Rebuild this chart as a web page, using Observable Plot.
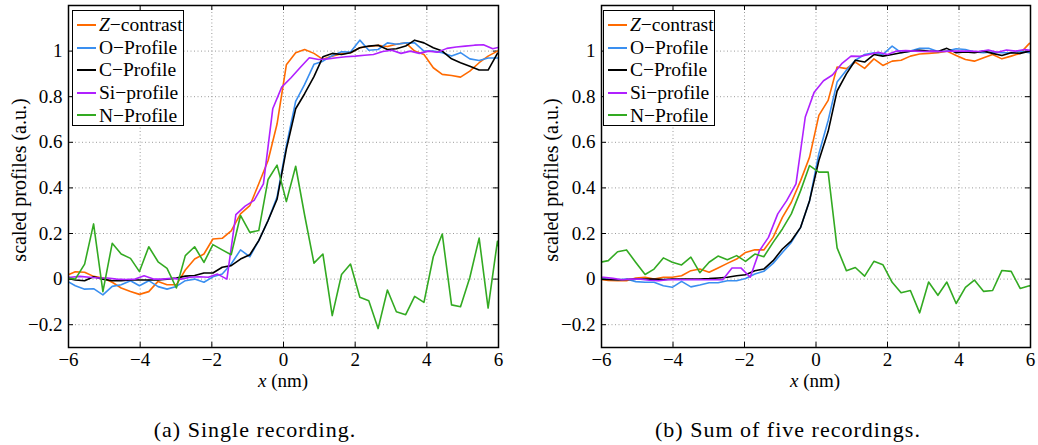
<!DOCTYPE html>
<html>
<head>
<meta charset="utf-8">
<script src="https://cdn.jsdelivr.net/npm/d3@7"></script>
<script src="https://cdn.jsdelivr.net/npm/@observablehq/plot@0.6"></script>
<style>
  html, body { margin: 0; padding: 0; background: #fff; }
  #page { position: relative; width: 1038px; height: 445px; background: #fff; overflow: hidden;
          font-family: "Liberation Serif", "Times New Roman", serif; color: #000; }
  #page svg, #page svg text { font-family: "Liberation Serif", "Times New Roman", serif !important; }
  .panel { position: absolute; top: 0; }
  .legend { position: absolute; top: 10px; width: 112px; height: 116px; background: #fff;
            border: 1.4px solid #000; box-sizing: border-box; }
  .lrow { position: absolute; left: 4px; height: 22px; display: flex; align-items: center;
          font-size: 19.5px; white-space: nowrap; line-height: 1; }
  .lrow .sw { display: block; width: 19px; height: 2px; margin-right: 3px; flex: none; }
  .xlab { position: absolute; top: 371px; width: 120px; text-align: center; font-size: 19px; line-height: 20px; }
  .ylab { position: absolute; width: 240px; height: 22px; line-height: 22px; text-align: center; font-size: 20px;
          white-space: nowrap; transform: translate(-50%, -50%) rotate(-90deg); }
  .cap { position: absolute; top: 418px; width: 440px; text-align: center; font-size: 22px; letter-spacing: 1px; line-height: 24px; }
</style>
</head>
<body>
<div id="page"></div>
<script>
// ---------- data ----------
const xTicks = [-6, -4, -2, 0, 2, 4, 6];
const yTicks = [-0.2, 0, 0.2, 0.4, 0.6, 0.8, 1];

const seriesNames = ["Z\u2212contrast", "O\u2212Profile", "C\u2212Profile", "Si\u2212profile", "N\u2212Profile"];
const seriesColors = ["#ff6a00", "#3a8ff0", "#000000", "#b020ff", "#33aa22"];

// sample positions (nm)
const xs = [-6.06, -5.81, -5.55, -5.30, -5.04, -4.78, -4.53, -4.27, -4.02, -3.76, -3.50, -3.25, -2.99, -2.74, -2.48, -2.22, -1.97, -1.71, -1.46, -1.20, -0.94, -0.69, -0.43, -0.18,
  0.08, 0.34, 0.59, 0.85, 1.10, 1.36, 1.62, 1.87, 2.13, 2.38, 2.64, 2.90, 3.15, 3.41, 3.66, 3.92, 4.18, 4.43, 4.69, 4.94, 5.20, 5.46, 5.71, 5.97, 6.22];
// Si profile sampled on a shifted grid
const xsSi = [-6.19, -5.94, -5.68, -5.42, -5.17, -4.91, -4.66, -4.40, -4.14, -3.89, -3.63, -3.38, -3.12, -2.86, -2.61, -2.35, -2.10, -1.84, -1.58, -1.33, -1.07, -0.82, -0.56, -0.30, -0.05,
  0.21, 0.46, 0.72, 0.98, 1.23, 1.49, 1.74, 2.00, 2.26, 2.51, 2.77, 3.02, 3.28, 3.54, 3.79, 4.05, 4.30, 4.56, 4.82, 5.07, 5.33, 5.58, 5.84, 6.10];

// (a) single recording
const zA = [0.015, 0.032, 0.03, 0.012, 0.005, -0.014, -0.039, -0.054, -0.067, -0.055, -0.01, -0.025, -0.025, 0.04, 0.088, 0.11, 0.176, 0.179, 0.212, 0.286, 0.322, 0.418, 0.52, 0.68,
  0.94, 0.993, 1.007, 0.99, 0.964, 0.978, 0.988, 0.993, 1.015, 1.02, 1.025, 1.02, 1.03, 1.036, 1.0, 0.985, 0.927, 0.898, 0.893, 0.886, 0.912, 0.949, 0.978, 1.0, 1.02];
const oA = [-0.007, -0.029, -0.044, -0.042, -0.069, -0.032, -0.025, -0.007, -0.029, -0.007, -0.033, -0.044, -0.032, -0.007, 0.0, -0.014, 0.01, 0.022, 0.066, 0.128, 0.098, 0.169, 0.257, 0.36,
  0.584, 0.78, 0.854, 0.942, 0.956, 0.98, 0.997, 0.996, 1.048, 1.004, 1.007, 1.036, 1.03, 1.036, 1.036, 1.0, 1.0, 0.993, 0.978, 0.993, 0.966, 0.959, 0.97, 0.97, 0.97];
const cA = [0.005, -0.004, -0.007, 0.01, 0.0, -0.007, -0.007, -0.004, -0.004, -0.004, -0.004, 0.0, 0.005, 0.013, 0.016, 0.027, 0.027, 0.052, 0.059, 0.088, 0.107, 0.169, 0.257, 0.35,
  0.57, 0.747, 0.813, 0.888, 0.975, 0.99, 0.985, 0.993, 1.015, 1.022, 1.026, 1.007, 1.01, 1.022, 1.048, 1.036, 1.015, 1.0, 0.966, 0.949, 0.934, 0.917, 0.917, 0.99, 1.0];
const siA = [0.01, 0.008, 0.012, 0.008, 0.005, 0.005, 0.0, -0.002, 0.0, 0.015, 0.0, 0.0, 0.003, 0.0, 0.008, 0.01, 0.008, 0.022, 0.0, 0.283, 0.32, 0.345, 0.418, 0.747, 0.842,
  0.883, 0.927, 0.971, 0.963, 0.966, 0.971, 0.975, 0.978, 0.982, 0.985, 0.998, 1.004, 0.99, 1.0, 0.99, 1.0, 0.995, 1.012, 1.018, 1.022, 1.026, 1.028, 1.01, 1.02];
const nA = [0.005, 0.0, 0.066, 0.242, -0.055, 0.157, 0.11, 0.091, 0.033, 0.142, 0.076, 0.047, -0.039, 0.103, 0.142, 0.073, 0.151, 0.128, 0.107, 0.279, 0.205, 0.213, 0.437, 0.50,
  0.34, 0.495, 0.28, 0.07, 0.11, -0.16, 0.02, 0.066, -0.08, -0.095, -0.217, -0.048, -0.143, -0.156, -0.076, -0.102, 0.098, 0.198, -0.113, -0.121, 0.007, 0.18, -0.127, 0.166, 0.0];

// (b) sum of five recordings
const zB = [-0.001, -0.006, -0.007, -0.007, 0.005, 0.008, 0.0, 0.008, 0.008, 0.015, 0.037, 0.044, 0.03, 0.049, 0.069, 0.088, 0.117, 0.129, 0.128, 0.183, 0.271, 0.337, 0.432, 0.535,
  0.718, 0.784, 0.93, 0.923, 0.952, 0.924, 0.966, 0.937, 0.956, 0.96, 0.978, 0.987, 0.99, 0.993, 1.0, 0.981, 0.963, 0.956, 0.971, 0.985, 0.966, 0.978, 0.99, 1.034, 1.019];
const oB = [0.0, 0.0, -0.003, 0.0, -0.011, -0.014, -0.014, -0.029, -0.036, -0.01, -0.034, -0.026, -0.016, -0.016, -0.007, -0.007, 0.003, 0.022, 0.034, 0.069, 0.117, 0.161, 0.227, 0.344,
  0.55, 0.696, 0.864, 0.916, 0.96, 0.985, 0.993, 0.985, 1.022, 0.993, 1.0, 1.012, 1.012, 0.998, 1.0, 1.01, 1.007, 0.996, 0.993, 0.996, 0.993, 0.993, 1.0, 0.993, 1.0];
const cB = [0.0, -0.002, -0.003, -0.002, 0.0, 0.0, 0.0, -0.002, 0.0, 0.0, 0.0, 0.0, 0.002, 0.005, 0.008, 0.015, 0.019, 0.037, 0.044, 0.081, 0.132, 0.168, 0.227, 0.344,
  0.52, 0.648, 0.825, 0.9, 0.96, 0.952, 0.985, 0.978, 0.985, 0.993, 1.0, 1.003, 1.0, 0.998, 1.012, 0.993, 0.996, 0.993, 1.0, 0.99, 0.981, 0.993, 0.99, 1.0, 1.0];
const siB = [0.008, 0.008, 0.003, -0.003, 0.0, 0.0, -0.005, -0.007, -0.003, -0.002, -0.003, -0.002, -0.003, -0.003, -0.003, 0.049, 0.049, 0.008, 0.125, 0.183, 0.286, 0.344, 0.418, 0.711, 0.82,
  0.87, 0.895, 0.945, 0.978, 0.977, 0.985, 0.995, 0.985, 1.0, 1.002, 1.0, 0.998, 1.0, 0.998, 1.0, 1.0, 1.0, 0.998, 1.005, 0.995, 1.005, 1.0, 1.007, 1.0];
const nB = [0.073, 0.081, 0.12, 0.128, 0.073, 0.02, 0.044, 0.093, 0.074, 0.062, 0.096, 0.028, 0.074, 0.101, 0.085, 0.103, 0.078, 0.11, 0.098, 0.161, 0.22, 0.286, 0.388, 0.498,
  0.469, 0.469, 0.137, 0.037, 0.051, 0.013, 0.078, 0.063, -0.014, -0.06, -0.05, -0.148, -0.013, -0.071, -0.013, -0.107, -0.036, -0.004, -0.054, -0.05, 0.038, 0.034, -0.041, -0.029, -0.04];

const captions = ["(a) Single recording.", "(b) Sum of five recordings."];
const yLabel = "scaled profiles (a.u.)";

// ---------- drawing ----------
const FONT = "Liberation Serif, Times New Roman, serif";
const fmt = d => (d === 0 ? "0" : String(d).replace("-", "\u2212"));
const toRows = (xv, yv) => yv.map((y, i) => ({x: xv[i], y}));

function panel(series, ml, mr) {
  const grid = {stroke: "#9a9a9a", strokeOpacity: 1, strokeWidth: 1, strokeDasharray: "1,2.5"};
  const lineMarks = series.map((s, i) =>
    Plot.line(toRows(s.x, s.y), {x: "x", y: "y", stroke: seriesColors[i], strokeWidth: 1.6, clip: true}));
  return Plot.plot({
    width: 519, height: 390,
    marginLeft: ml, marginRight: mr, marginTop: 5, marginBottom: 43,
    x: {domain: [-6, 6]},
    y: {domain: [-0.3, 1.2]},
    style: {fontFamily: FONT, fontSize: "19px", color: "#000", background: "transparent", overflow: "visible"},
    marks: [
      Plot.gridX(xTicks, grid),
      Plot.gridY(yTicks, grid),
      Plot.ruleY(yTicks, {x1: -6, x2: -5.86, stroke: "#000"}),
      Plot.ruleY(yTicks, {x1: 5.86, x2: 6, stroke: "#000"}),
      Plot.ruleX(xTicks, {y1: -0.3, y2: -0.278, stroke: "#000"}),
      Plot.ruleX(xTicks, {y1: 1.178, y2: 1.2, stroke: "#000"}),
      ...lineMarks,
      Plot.frame({stroke: "#000", strokeWidth: 1.5}),
      Plot.axisX(xTicks, {tickSize: 0, tickPadding: 5, tickFormat: fmt, label: null, fontSize: 19, fontFamily: FONT}),
      Plot.axisY(yTicks, {tickSize: 0, tickPadding: 6, tickFormat: fmt, label: null, fontSize: 19, fontFamily: FONT})
    ]
  });
}

const page = document.getElementById("page");
const panels = [
  {left: 0, ml: 68, mr: 21, series: [{x: xs, y: zA}, {x: xs, y: oA}, {x: xs, y: cA}, {x: xsSi, y: siA}, {x: xs, y: nA}], legendLeft: 72, xlabC: 283, capC: 255, ylabX: 19},
  {left: 519, ml: 82, mr: 8, series: [{x: xs, y: zB}, {x: xs, y: oB}, {x: xs, y: cB}, {x: xsSi, y: siB}, {x: xs, y: nB}], legendLeft: 603, xlabC: 815, capC: 788, ylabX: 551}
];

panels.forEach((p, pi) => {
  const wrap = document.createElement("div");
  wrap.className = "panel";
  wrap.style.left = p.left + "px";
  wrap.appendChild(panel(p.series, p.ml, p.mr));
  page.appendChild(wrap);

  const lg = document.createElement("div");
  lg.className = "legend";
  lg.style.left = p.legendLeft + "px";
  seriesNames.forEach((name, i) => {
    const row = document.createElement("div");
    row.className = "lrow";
    row.style.top = (3 + i * 22.6) + "px";
    const sw = document.createElement("span");
    sw.className = "sw";
    sw.style.backgroundColor = seriesColors[i];
    row.appendChild(sw);
    const t = document.createElement("span");
    if (i === 0) {
      const it = document.createElement("i");
      it.textContent = name[0];
      t.appendChild(it);
      t.appendChild(document.createTextNode(name.slice(1)));
    } else {
      t.textContent = name;
    }
    row.appendChild(t);
    lg.appendChild(row);
  });
  page.appendChild(lg);

  const yl = document.createElement("div");
  yl.className = "ylab";
  yl.style.left = p.ylabX + "px";
  yl.style.top = "180px";
  yl.textContent = yLabel;
  page.appendChild(yl);

  const xl = document.createElement("div");
  xl.className = "xlab";
  xl.style.left = (p.xlabC - 60) + "px";
  xl.innerHTML = "<i>x</i> (nm)";
  page.appendChild(xl);

  const cap = document.createElement("div");
  cap.className = "cap";
  cap.style.left = (p.capC - 220) + "px";
  cap.textContent = captions[pi];
  page.appendChild(cap);
});
</script>
</body>
</html>
